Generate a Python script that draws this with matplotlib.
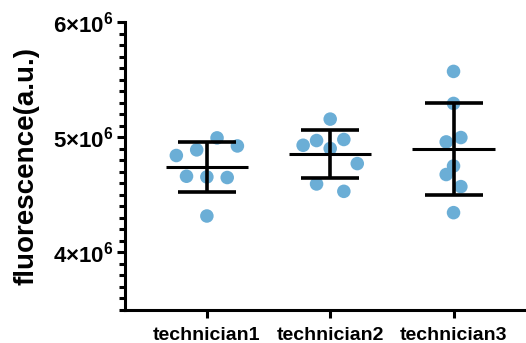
import matplotlib.pyplot as plt
import numpy as np
from matplotlib.ticker import MultipleLocator, FixedLocator, FuncFormatter

plt.rcParams['font.family'] = ['Liberation Sans', 'DejaVu Sans']
plt.rcParams['mathtext.fontset'] = 'custom'
plt.rcParams['mathtext.rm'] = 'Liberation Sans:bold'
plt.rcParams['mathtext.bf'] = 'Liberation Sans:bold'

# data (fluorescence, a.u.)
groups = ["technician1", "technician2", "technician3"]
tech1 = [4.841e6, 4.890e6, 4.994e6, 4.924e6, 4.661e6, 4.655e6, 4.650e6, 4.316e6]
tech2 = [4.930e6, 4.971e6, 5.157e6, 4.980e6, 4.902e6, 4.771e6, 4.594e6, 4.530e6]
tech3 = [5.571e6, 5.293e6, 4.959e6, 4.997e6, 4.750e6, 4.676e6, 4.571e6, 4.345e6]
values = [tech1, tech2, tech3]
# horizontal scatter offsets (in dot widths)
spread = [[-1.5, -0.5, 0.5, 1.5, -1, 0, 1, 0],
          [-1.33, -0.67, 0, 0.67, 0, 1.33, -0.67, 0.67],
          [0, 0, -0.36, 0.36, 0, -0.36, 0.36, 0]]

fig = plt.figure(figsize=(5.26, 3.43), dpi=100)
ax = fig.add_axes([0.2376, 0.0962, 0.77, 0.8397])

dot = 0.165
for i, (v, off) in enumerate(zip(values, spread)):
    v = np.array(v)
    xs = i + np.array(off) * dot
    ax.scatter(xs, v, s=95, color='#6baed6', edgecolors='none', zorder=2)
    m = v.mean()
    sd = v.std(ddof=1)
    ax.plot([i - 0.333, i + 0.333], [m, m], color='black', lw=2.2, zorder=3,
            solid_capstyle='butt')
    ax.errorbar(i, m, yerr=sd, fmt='none', ecolor='black', elinewidth=2.6,
                capsize=21, capthick=2.6, zorder=3)

ax.set_xlim(-0.664, 2.62)
ax.set_ylim(3.5e6, 6e6)
ax.xaxis.set_major_locator(FixedLocator([0, 1, 2]))
ax.set_xticklabels(groups, fontsize=14, fontweight='bold')
ax.yaxis.set_major_locator(MultipleLocator(1e6))
ax.yaxis.set_minor_locator(MultipleLocator(1e5))
ax.yaxis.set_major_formatter(FuncFormatter(
    lambda y, p: r'$\mathbf{%d{\times}10^{6}}$' % round(y / 1e6)))
ax.tick_params(axis='y', which='major', length=6, width=2.2, pad=2, labelsize=16)
ax.tick_params(axis='y', which='minor', length=4, width=2.2)
ax.tick_params(axis='x', which='major', length=6, width=2.2, pad=6)

ax.set_ylabel("fluorescence(a.u.)", fontsize=20, fontweight='bold', labelpad=10)

for s in ['top', 'right']:
    ax.spines[s].set_visible(False)
for s in ['left', 'bottom']:
    ax.spines[s].set_linewidth(2.2)

plt.savefig('out.png', dpi=100)
